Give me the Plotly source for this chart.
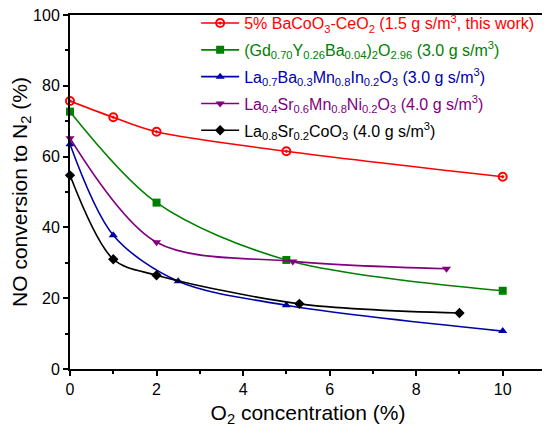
import plotly.graph_objects as go

# O2 concentration (%) and NO conversion to N2 (%) per catalyst
x_bacoo3 = [0, 1, 2, 5, 10]
y_bacoo3 = [75.7, 71.1, 67.0, 61.5, 54.3]

x_gdyba = [0, 2, 5, 10]
y_gdyba = [72.7, 47.0, 30.8, 22.1]

x_labamnin = [0, 1, 2.5, 5, 10]
y_labamnin = [63.5, 37.8, 24.8, 18.0, 10.7]

x_lasrmnni = [0, 2, 5.15, 8.7]
y_lasrmnni = [65.2, 35.8, 30.4, 28.3]

x_lasrco = [0, 1, 2, 5.3, 9]
y_lasrco = [54.7, 31.0, 26.5, 18.4, 15.8]

names = [
    "5% BaCoO<sub>3</sub>-CeO<sub>2</sub> (1.5 g s/m<sup>3</sup>, this work)",
    "(Gd<sub>0.70</sub>Y<sub>0.26</sub>Ba<sub>0.04</sub>)<sub>2</sub>O<sub>2.96</sub> (3.0 g s/m<sup>3</sup>)",
    "La<sub>0.7</sub>Ba<sub>0.3</sub>Mn<sub>0.8</sub>In<sub>0.2</sub>O<sub>3</sub> (3.0 g s/m<sup>3</sup>)",
    "La<sub>0.4</sub>Sr<sub>0.6</sub>Mn<sub>0.8</sub>Ni<sub>0.2</sub>O<sub>3</sub> (4.0 g s/m<sup>3</sup>)",
    "La<sub>0.8</sub>Sr<sub>0.2</sub>CoO<sub>3</sub> (4.0 g s/m<sup>3</sup>)",
]
colors = ["#ff0000", "#008000", "#0000a8", "#800080", "#000000"]
symbols = ["circle-open-dot", "square", "triangle-up", "triangle-down", "diamond"]
xs = [x_bacoo3, x_gdyba, x_labamnin, x_lasrmnni, x_lasrco]
ys = [y_bacoo3, y_gdyba, y_labamnin, y_lasrmnni, y_lasrco]

fig = go.Figure()
for i, (x, y, name, c, s) in enumerate(zip(xs, ys, names, colors, symbols)):
    fig.add_trace(go.Scatter(
        x=x, y=y, mode="lines+markers",
        name='<span style="color:%s">%s</span>' % (c, name),
        legendgroup="g%d" % i,
        line=dict(color=c, width=1.6, shape="spline", smoothing=0.9),
        marker=dict(symbol=s, color=c, size=8,
                    line=dict(color=c, width=2 if s == "circle-open-dot" else 0)),
        cliponaxis=False,
    ))

axis_style = dict(
    showline=True, linewidth=2, linecolor="black", mirror=True,
    ticks="outside", ticklen=5, tickwidth=2, tickcolor="black",
    showgrid=False, zeroline=False, ticklabeloverflow="allow",
    tickfont=dict(size=16, color="black"),
)

fig.update_xaxes(
    range=[0, 11], tick0=0, dtick=2,
    minor=dict(ticks="outside", ticklen=3, tickwidth=1.5, tickcolor="black", dtick=1),
    title=dict(text="O<sub>2</sub> concentration (%)", font=dict(size=21, color="black"), standoff=8),
    **axis_style,
)
fig.update_yaxes(
    range=[0, 100], tick0=0, dtick=20,
    minor=dict(ticks="outside", ticklen=3, tickwidth=1.5, tickcolor="black", dtick=10),
    title=dict(text="NO conversion to N<sub>2</sub> (%)", font=dict(size=21, color="black"), standoff=4),
    **axis_style,
)

fig.update_layout(
    width=550, height=434,
    margin=dict(l=62, r=12, t=7, b=73, autoexpand=False),
    plot_bgcolor="white", paper_bgcolor="white",
    font=dict(family="Arial, Liberation Sans, sans-serif", color="black"),
    showlegend=True,
    legend=dict(x=0.265, y=1.025, xanchor="left", yanchor="top",
                bgcolor="rgba(0,0,0,0)", font=dict(size=16),
                itemwidth=38, tracegroupgap=3),
)

fig.write_html("out.html")
